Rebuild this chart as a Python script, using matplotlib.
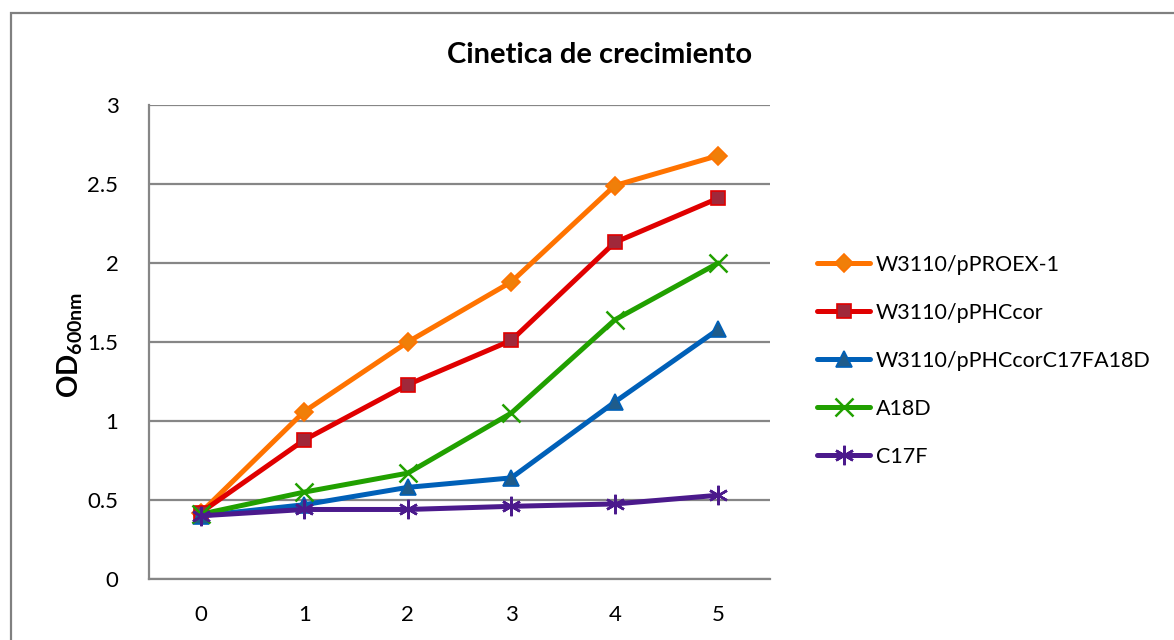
import matplotlib
matplotlib.use("Agg")
import matplotlib.pyplot as plt
from matplotlib.patches import Rectangle

plt.rcParams['font.family'] = ['Lato', 'DejaVu Sans']
plt.rcParams['mathtext.fontset'] = 'custom'
plt.rcParams['mathtext.rm'] = 'Lato'
plt.rcParams['mathtext.bf'] = 'Lato:bold'

# Growth kinetics data (OD 600 nm per hour)
hours = [0, 1, 2, 3, 4, 5]
series_names = ["W3110/pPROEX-1", "W3110/pPHCcor", "W3110/pPHCcorC17FA18D", "A18D", "C17F"]
od_proex = [0.42, 1.06, 1.50, 1.88, 2.49, 2.68]
od_phccor = [0.42, 0.88, 1.23, 1.51, 2.13, 2.41]
od_c17fa18d = [0.40, 0.47, 0.58, 0.64, 1.12, 1.58]
od_a18d = [0.41, 0.55, 0.67, 1.05, 1.64, 2.00]
od_c17f = [0.40, 0.44, 0.44, 0.46, 0.475, 0.53]
y_ticks = [0, 0.5, 1, 1.5, 2, 2.5, 3]
y_tick_labels = ["0", "0.5", "1", "1.5", "2", "2.5", "3"]

styles = [
    dict(color="#FF7300", marker="D", mfc="#F07F09", mec="#FF7300", ms=9),
    dict(color="#E00000", marker="s", mfc="#A0283A", mec="#E00000", ms=10),
    dict(color="#0060B8", marker="^", mfc="#1F5C8B", mec="#0060B8", ms=12),
    dict(color="#21A000", marker="x", mfc="#21A000", mec="#21A000", ms=13, mew=1.8),
    dict(color="#4B1A8C", marker=(6, 2, 0), mfc="#4B1A8C", mec="#4B1A8C", ms=14, mew=1.8),
]
data = [od_proex, od_phccor, od_c17fa18d, od_a18d, od_c17f]

fig = plt.figure(figsize=(11.74, 6.40), dpi=100)
fig.patch.set_facecolor("white")

# Chart-area frame
frame = Rectangle((11 / 1174, -0.05), 1.2, 1 - 13 / 640 + 0.05,
                  transform=fig.transFigure, fill=False,
                  edgecolor="#808080", linewidth=1.6, clip_on=False)
fig.add_artist(frame)

ax = fig.add_axes([149 / 1174, 61 / 640, 621 / 1174, 474 / 640])
grid_color = "#868686"
for v in y_ticks:
    ax.axhline(v, color=grid_color, lw=1.6, zorder=1)

for name, vals, st in zip(series_names, data, styles):
    st = dict(st)
    mew = st.pop("mew", 1.2)
    ax.plot(hours, vals, lw=3.6, label=name, zorder=3, mew=mew,
            solid_capstyle="round", **st)

ax.set_xlim(-0.5, 5.5)
ax.set_ylim(0, 3)
ax.set_xticks(hours)
ax.set_xticklabels([str(h) for h in hours])
ax.set_yticks(y_ticks)
ax.set_yticklabels(y_tick_labels)
ax.tick_params(axis="both", length=0, labelsize=16, colors="black")
ax.tick_params(axis="y", pad=22)
ax.tick_params(axis="x", pad=19)
for side in ["top", "right"]:
    ax.spines[side].set_visible(False)
for side in ["left", "bottom"]:
    ax.spines[side].set_color(grid_color)
    ax.spines[side].set_linewidth(1.6)

ax.set_title("Cinetica de crecimiento", fontsize=21, fontweight="bold",
             pad=30, x=(600 - 149) / 621)
fig.text(70 / 1174, 1 - 345 / 640, r"$\mathbf{OD}_{\mathbf{600nm}}$",
         rotation=90, fontsize=20, ha="center", va="center")

leg = ax.legend(loc="center left", bbox_to_anchor=(659 / 621, (579 - 361) / 474),
                frameon=False, fontsize=15.5, handlelength=2.5, handletextpad=0.25,
                labelspacing=1.3, borderaxespad=0)

fig.savefig("out.png", dpi=100)
